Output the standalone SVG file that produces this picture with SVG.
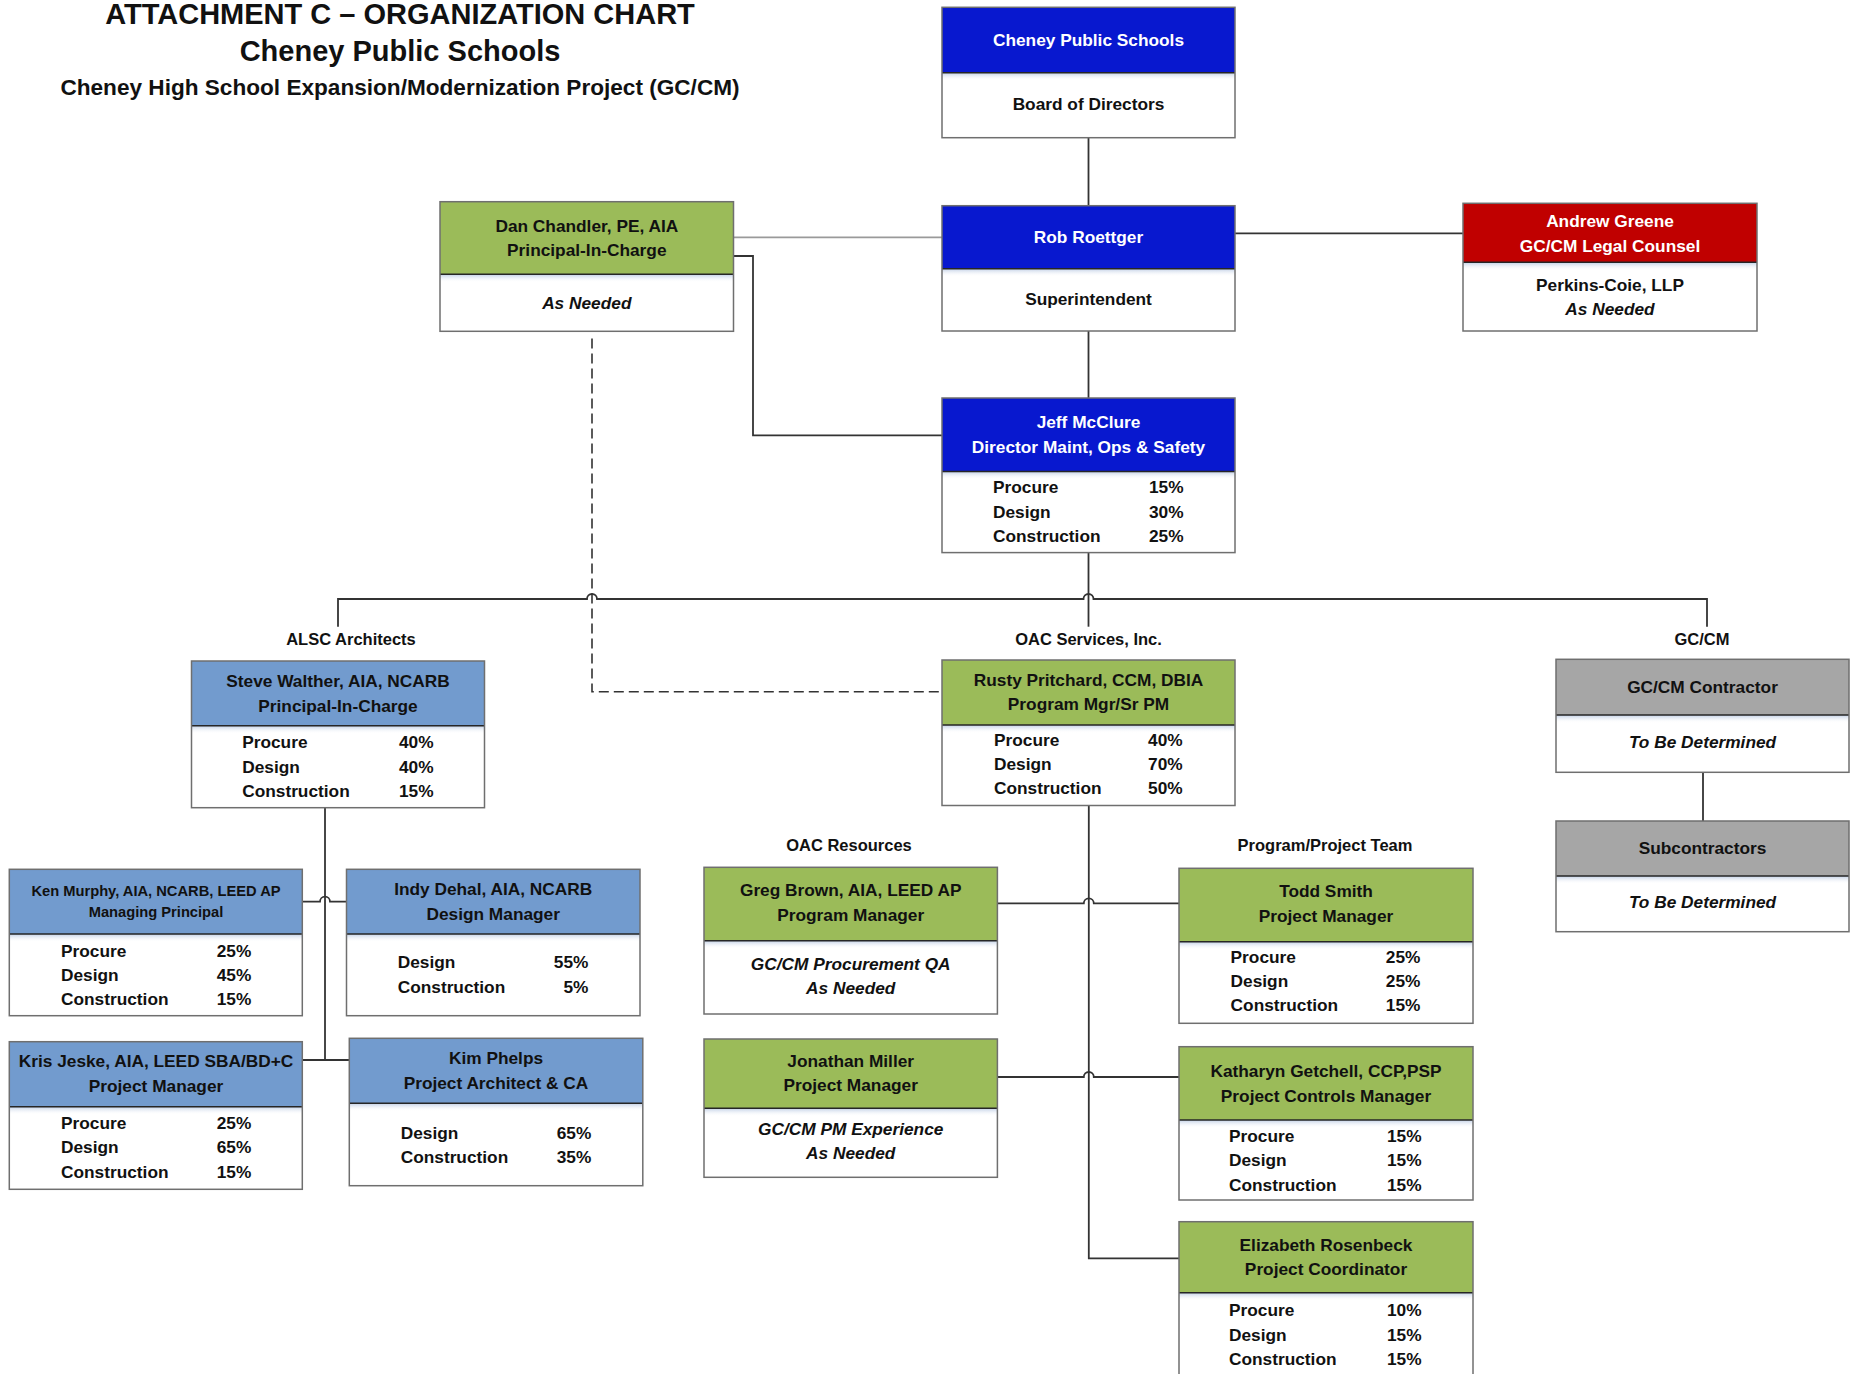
<svg xmlns="http://www.w3.org/2000/svg" width="1855" height="1374" viewBox="0 0 1855 1374">
<defs>
<linearGradient id="shade" x1="0" y1="0" x2="0" y2="1">
<stop offset="0" stop-color="#b9c9e2" stop-opacity="0.9"/>
<stop offset="1" stop-color="#ffffff" stop-opacity="0"/>
</linearGradient>
</defs>
<style>
text{font-family:"Liberation Sans",Arial,sans-serif;font-weight:bold;fill:#111;}
.t{font-size:17.3px;text-anchor:middle;}
.w{fill:#fff;}
.i{font-style:italic;}
.sm{font-size:14.7px;text-anchor:middle;}
.r{font-size:17.3px;}
.p{font-size:17.3px;text-anchor:end;}
.lab{font-size:16.5px;text-anchor:middle;}
.title{font-size:29px;text-anchor:middle;}
.sub{font-size:22.6px;text-anchor:middle;}
.blue{fill:#0818cf;}
.green{fill:#9bbb59;}
.lblue{fill:#729bce;}
.red{fill:#c00000;}
.gray{fill:#a6a6a6;}
.body{fill:#fff;}
.sh{fill:url(#shade);}
.frame{fill:none;stroke:#6f6f6f;stroke-width:1.5;}
.div{stroke:#262626;stroke-width:1.6;}
.c{fill:none;stroke:#333;stroke-width:1.8;}
.cg{fill:none;stroke:#9a9a9a;stroke-width:1.8;}
.dash{fill:none;stroke:#333;stroke-width:1.6;stroke-dasharray:10 5;}
</style>

<g id="title">
<text class="title" x="400" y="23.5">ATTACHMENT C – ORGANIZATION CHART</text>
<text class="title" x="400" y="61">Cheney Public Schools</text>
<text class="sub" x="400" y="95">Cheney High School Expansion/Modernization Project (GC/CM)</text>
</g>

<g id="connectors">
<path class="c" d="M1088.5 137.7V205.7"/>
<path class="c" d="M1088.5 331V398"/>
<path class="cg" d="M733.5 237.3H942"/>
<path class="c" d="M1235 233.3H1463"/>
<path class="c" d="M733.5 256H753V435.3H942"/>
<path class="dash" d="M592 338.5V691.7H942"/>
<path class="c" d="M1088.5 552.6V626.7"/>
<path class="c" d="M338 626.7V599H587a5 5 0 0 1 10 0H1083.5a5 5 0 0 1 10 0H1707V626.7"/>
<path class="c" d="M1703 772.3V821"/>
<path class="c" d="M325 807.7V1060"/>
<path class="c" d="M302.3 901.7H320a5 5 0 0 1 10 0H346.5"/>
<path class="c" d="M302.3 1060H349.3"/>
<path class="c" d="M1088.8 805.5V1258.3H1179"/>
<path class="c" d="M997.4 903.3H1083.8a5 5 0 0 1 10 0H1179"/>
<path class="c" d="M997.4 1077H1083.8a5 5 0 0 1 10 0H1179"/>
</g>

<g id="labels">
<text class="lab" x="351" y="645">ALSC Architects</text>
<text class="lab" x="1088.5" y="645">OAC Services, Inc.</text>
<text class="lab" x="1702" y="645">GC/CM</text>
<text class="lab" x="849" y="850.7">OAC Resources</text>
<text class="lab" x="1325" y="850.7">Program/Project Team</text>
</g>

<g id="n-cheney">
<rect class="blue" x="942" y="7.3" width="293" height="65.4"/>
<rect class="body" x="942" y="72.7" width="293" height="65"/>
<rect class="sh" x="942" y="72.7" width="293" height="8"/>
<line class="div" x1="942" y1="72.7" x2="1235" y2="72.7"/>
<rect class="frame" x="942" y="7.3" width="293" height="130.4"/>
<text class="t w" x="1088.5" y="46">Cheney Public Schools</text>
<text class="t" x="1088.5" y="110">Board of Directors</text>
</g>

<g id="n-rob">
<rect class="blue" x="942" y="205.7" width="293" height="63"/>
<rect class="body" x="942" y="268.7" width="293" height="62.3"/>
<rect class="sh" x="942" y="268.7" width="293" height="8"/>
<line class="div" x1="942" y1="268.7" x2="1235" y2="268.7"/>
<rect class="frame" x="942" y="205.7" width="293" height="125.3"/>
<text class="t w" x="1088.5" y="243.3">Rob Roettger</text>
<text class="t" x="1088.5" y="305">Superintendent</text>
</g>

<g id="n-dan">
<rect class="green" x="440" y="201.7" width="293.5" height="72.6"/>
<rect class="body" x="440" y="274.3" width="293.5" height="57"/>
<rect class="sh" x="440" y="274.3" width="293.5" height="8"/>
<line class="div" x1="440" y1="274.3" x2="733.5" y2="274.3"/>
<rect class="frame" x="440" y="201.7" width="293.5" height="129.6"/>
<text class="t" x="586.8" y="231.7">Dan Chandler, PE, AIA</text>
<text class="t" x="586.8" y="256">Principal-In-Charge</text>
<text class="t i" x="586.8" y="308.5">As Needed</text>
</g>

<g id="n-andrew">
<rect class="red" x="1463" y="203.3" width="294" height="59"/>
<rect class="body" x="1463" y="262.3" width="294" height="68.7"/>
<rect class="sh" x="1463" y="262.3" width="294" height="8"/>
<line class="div" x1="1463" y1="262.3" x2="1757" y2="262.3"/>
<rect class="frame" x="1463" y="203.3" width="294" height="127.7"/>
<text class="t w" x="1610" y="226.7">Andrew Greene</text>
<text class="t w" x="1610" y="251.5">GC/CM Legal Counsel</text>
<text class="t" x="1610" y="291">Perkins-Coie, LLP</text>
<text class="t i" x="1610" y="315">As Needed</text>
</g>

<g id="n-jeff">
<rect class="blue" x="942" y="398" width="293" height="73.5"/>
<rect class="body" x="942" y="471.5" width="293" height="81.1"/>
<rect class="sh" x="942" y="471.5" width="293" height="8"/>
<line class="div" x1="942" y1="471.5" x2="1235" y2="471.5"/>
<rect class="frame" x="942" y="398" width="293" height="154.6"/>
<text class="t w" x="1088.5" y="428.3">Jeff McClure</text>
<text class="t w" x="1088.5" y="453">Director Maint, Ops &amp; Safety</text>
<text class="r" x="993" y="493.3">Procure</text>
<text class="r" x="993" y="517.7">Design</text>
<text class="r" x="993" y="542.3">Construction</text>
<text class="p" x="1183.5" y="493.3">15%</text>
<text class="p" x="1183.5" y="517.7">30%</text>
<text class="p" x="1183.5" y="542.3">25%</text>
</g>

<g id="n-rusty">
<rect class="green" x="942" y="660" width="293" height="65"/>
<rect class="body" x="942" y="725" width="293" height="80.5"/>
<rect class="sh" x="942" y="725" width="293" height="8"/>
<line class="div" x1="942" y1="725" x2="1235" y2="725"/>
<rect class="frame" x="942" y="660" width="293" height="145.5"/>
<text class="t" x="1088.5" y="686">Rusty Pritchard, CCM, DBIA</text>
<text class="t" x="1088.5" y="710">Program Mgr/Sr PM</text>
<text class="r" x="994" y="746">Procure</text>
<text class="r" x="994" y="770">Design</text>
<text class="r" x="994" y="794">Construction</text>
<text class="p" x="1182.7" y="746">40%</text>
<text class="p" x="1182.7" y="770">70%</text>
<text class="p" x="1182.7" y="794">50%</text>
</g>

<g id="n-steve">
<rect class="lblue" x="191.5" y="661" width="293" height="64.7"/>
<rect class="body" x="191.5" y="725.7" width="293" height="82"/>
<rect class="sh" x="191.5" y="725.7" width="293" height="8"/>
<line class="div" x1="191.5" y1="725.7" x2="484.5" y2="725.7"/>
<rect class="frame" x="191.5" y="661" width="293" height="146.7"/>
<text class="t" x="338" y="686.7">Steve Walther, AIA, NCARB</text>
<text class="t" x="338" y="711.7">Principal-In-Charge</text>
<text class="r" x="242.2" y="748">Procure</text>
<text class="r" x="242.2" y="772.7">Design</text>
<text class="r" x="242.2" y="796.7">Construction</text>
<text class="p" x="433.6" y="748">40%</text>
<text class="p" x="433.6" y="772.7">40%</text>
<text class="p" x="433.6" y="796.7">15%</text>
</g>

<g id="n-ken">
<rect class="lblue" x="9.3" y="869.3" width="293" height="64.7"/>
<rect class="body" x="9.3" y="934" width="293" height="81.7"/>
<rect class="sh" x="9.3" y="934" width="293" height="8"/>
<line class="div" x1="9.3" y1="934" x2="302.3" y2="934"/>
<rect class="frame" x="9.3" y="869.3" width="293" height="146.4"/>
<text class="sm" x="156" y="896">Ken Murphy, AIA, NCARB, LEED AP</text>
<text class="sm" x="156" y="917.3">Managing Principal</text>
<text class="r" x="61" y="956.7">Procure</text>
<text class="r" x="61" y="980.7">Design</text>
<text class="r" x="61" y="1005">Construction</text>
<text class="p" x="251.3" y="956.7">25%</text>
<text class="p" x="251.3" y="980.7">45%</text>
<text class="p" x="251.3" y="1005">15%</text>
</g>

<g id="n-indy">
<rect class="lblue" x="346.5" y="869.3" width="293.5" height="64.7"/>
<rect class="body" x="346.5" y="934" width="293.5" height="81.7"/>
<rect class="sh" x="346.5" y="934" width="293.5" height="8"/>
<line class="div" x1="346.5" y1="934" x2="640" y2="934"/>
<rect class="frame" x="346.5" y="869.3" width="293.5" height="146.4"/>
<text class="t" x="493.2" y="895">Indy Dehal, AIA, NCARB</text>
<text class="t" x="493.2" y="920">Design Manager</text>
<text class="r" x="397.7" y="968.3">Design</text>
<text class="r" x="397.7" y="992.7">Construction</text>
<text class="p" x="588.4" y="968.3">55%</text>
<text class="p" x="588.4" y="992.7">5%</text>
</g>

<g id="n-kris">
<rect class="lblue" x="9.3" y="1041.7" width="293" height="65"/>
<rect class="body" x="9.3" y="1106.7" width="293" height="82.6"/>
<rect class="sh" x="9.3" y="1106.7" width="293" height="8"/>
<line class="div" x1="9.3" y1="1106.7" x2="302.3" y2="1106.7"/>
<rect class="frame" x="9.3" y="1041.7" width="293" height="147.6"/>
<text class="t" x="156" y="1067.3">Kris Jeske, AIA, LEED SBA/BD+C</text>
<text class="t" x="156" y="1092.3">Project Manager</text>
<text class="r" x="61" y="1129.3">Procure</text>
<text class="r" x="61" y="1153.3">Design</text>
<text class="r" x="61" y="1178.3">Construction</text>
<text class="p" x="251.3" y="1129.3">25%</text>
<text class="p" x="251.3" y="1153.3">65%</text>
<text class="p" x="251.3" y="1178.3">15%</text>
</g>

<g id="n-kim">
<rect class="lblue" x="349.3" y="1038.3" width="293.5" height="65"/>
<rect class="body" x="349.3" y="1103.3" width="293.5" height="82.4"/>
<rect class="sh" x="349.3" y="1103.3" width="293.5" height="8"/>
<line class="div" x1="349.3" y1="1103.3" x2="642.8" y2="1103.3"/>
<rect class="frame" x="349.3" y="1038.3" width="293.5" height="147.4"/>
<text class="t" x="496" y="1064">Kim Phelps</text>
<text class="t" x="496" y="1089">Project Architect &amp; CA</text>
<text class="r" x="400.7" y="1139">Design</text>
<text class="r" x="400.7" y="1162.7">Construction</text>
<text class="p" x="591.3" y="1139">65%</text>
<text class="p" x="591.3" y="1162.7">35%</text>
</g>

<g id="n-greg">
<rect class="green" x="704" y="867.3" width="293.4" height="73.4"/>
<rect class="body" x="704" y="940.7" width="293.4" height="73.3"/>
<rect class="sh" x="704" y="940.7" width="293.4" height="8"/>
<line class="div" x1="704" y1="940.7" x2="997.4" y2="940.7"/>
<rect class="frame" x="704" y="867.3" width="293.4" height="146.7"/>
<text class="t" x="850.7" y="896">Greg Brown, AIA, LEED AP</text>
<text class="t" x="850.7" y="920.7">Program Manager</text>
<text class="t i" x="850.7" y="970">GC/CM Procurement QA</text>
<text class="t i" x="850.7" y="994">As Needed</text>
</g>

<g id="n-jonathan">
<rect class="green" x="704" y="1039" width="293.4" height="69.3"/>
<rect class="body" x="704" y="1108.3" width="293.4" height="69"/>
<rect class="sh" x="704" y="1108.3" width="293.4" height="8"/>
<line class="div" x1="704" y1="1108.3" x2="997.4" y2="1108.3"/>
<rect class="frame" x="704" y="1039" width="293.4" height="138.3"/>
<text class="t" x="850.7" y="1066.7">Jonathan Miller</text>
<text class="t" x="850.7" y="1090.7">Project Manager</text>
<text class="t i" x="850.7" y="1135">GC/CM PM Experience</text>
<text class="t i" x="850.7" y="1159.3">As Needed</text>
</g>

<g id="n-todd">
<rect class="green" x="1179" y="868.3" width="294" height="73.4"/>
<rect class="body" x="1179" y="941.7" width="294" height="81.6"/>
<rect class="sh" x="1179" y="941.7" width="294" height="8"/>
<line class="div" x1="1179" y1="941.7" x2="1473" y2="941.7"/>
<rect class="frame" x="1179" y="868.3" width="294" height="155"/>
<text class="t" x="1326" y="897.3">Todd Smith</text>
<text class="t" x="1326" y="921.7">Project Manager</text>
<text class="r" x="1230.6" y="962.7">Procure</text>
<text class="r" x="1230.6" y="986.7">Design</text>
<text class="r" x="1230.6" y="1010.7">Construction</text>
<text class="p" x="1420.4" y="962.7">25%</text>
<text class="p" x="1420.4" y="986.7">25%</text>
<text class="p" x="1420.4" y="1010.7">15%</text>
</g>

<g id="n-katharyn">
<rect class="green" x="1179" y="1046.7" width="294" height="73.3"/>
<rect class="body" x="1179" y="1120" width="294" height="80"/>
<rect class="sh" x="1179" y="1120" width="294" height="8"/>
<line class="div" x1="1179" y1="1120" x2="1473" y2="1120"/>
<rect class="frame" x="1179" y="1046.7" width="294" height="153.3"/>
<text class="t" x="1326" y="1076.7">Katharyn Getchell, CCP,PSP</text>
<text class="t" x="1326" y="1101.7">Project Controls Manager</text>
<text class="r" x="1229" y="1141.7">Procure</text>
<text class="r" x="1229" y="1166">Design</text>
<text class="r" x="1229" y="1190.7">Construction</text>
<text class="p" x="1421.5" y="1141.7">15%</text>
<text class="p" x="1421.5" y="1166">15%</text>
<text class="p" x="1421.5" y="1190.7">15%</text>
</g>

<g id="n-elizabeth">
<rect class="green" x="1179" y="1221.7" width="294" height="71"/>
<rect class="body" x="1179" y="1292.7" width="294" height="92"/>
<rect class="sh" x="1179" y="1292.7" width="294" height="8"/>
<line class="div" x1="1179" y1="1292.7" x2="1473" y2="1292.7"/>
<rect class="frame" x="1179" y="1221.7" width="294" height="163"/>
<text class="t" x="1326" y="1250.7">Elizabeth Rosenbeck</text>
<text class="t" x="1326" y="1275">Project Coordinator</text>
<text class="r" x="1229" y="1316">Procure</text>
<text class="r" x="1229" y="1341">Design</text>
<text class="r" x="1229" y="1365">Construction</text>
<text class="p" x="1421.5" y="1316">10%</text>
<text class="p" x="1421.5" y="1341">15%</text>
<text class="p" x="1421.5" y="1365">15%</text>
</g>

<g id="n-gccm">
<rect class="gray" x="1556" y="659.3" width="293" height="55.7"/>
<rect class="body" x="1556" y="715" width="293" height="57.3"/>
<rect class="sh" x="1556" y="715" width="293" height="8"/>
<line class="div" x1="1556" y1="715" x2="1849" y2="715"/>
<rect class="frame" x="1556" y="659.3" width="293" height="113"/>
<text class="t" x="1702.5" y="692.7">GC/CM Contractor</text>
<text class="t i" x="1702.5" y="748.3">To Be Determined</text>
</g>

<g id="n-subs">
<rect class="gray" x="1556" y="821" width="293" height="55"/>
<rect class="body" x="1556" y="876" width="293" height="55.7"/>
<rect class="sh" x="1556" y="876" width="293" height="8"/>
<line class="div" x1="1556" y1="876" x2="1849" y2="876"/>
<rect class="frame" x="1556" y="821" width="293" height="110.7"/>
<text class="t" x="1702.5" y="854.3">Subcontractors</text>
<text class="t i" x="1702.5" y="908.3">To Be Determined</text>
</g>
</svg>
